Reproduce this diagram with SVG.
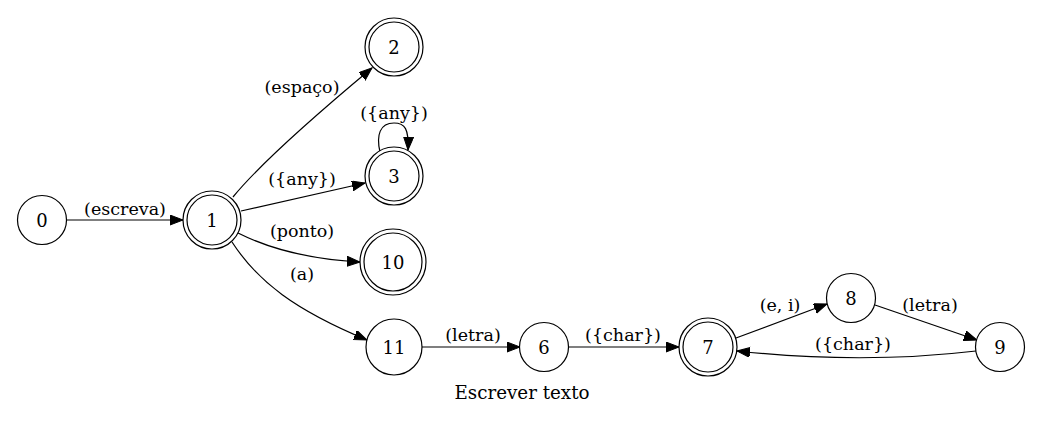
<svg xmlns="http://www.w3.org/2000/svg" width="1044" height="429" viewBox="0 0 1044 429">
<style>
  .n { fill: #fff; stroke: #000; stroke-width: 1.2; }
  .e { fill: none; stroke: #000; stroke-width: 1.2; }
  .nl { font-family: "DejaVu Serif", serif; font-size: 18px; text-anchor: middle; fill: #000; }
  .el { font-family: "DejaVu Serif", serif; font-size: 17.5px; text-anchor: middle; fill: #000; }
  .t { font-family: "DejaVu Serif", serif; font-size: 18.3px; text-anchor: middle; fill: #000; }
</style>
<defs>
  <marker id="arr" markerUnits="userSpaceOnUse" markerWidth="14" markerHeight="11" refX="13" refY="5" orient="auto">
    <path d="M0,0 L13,5 L0,10 Z" fill="#000" stroke="#000" stroke-width="1"/>
  </marker>
</defs>
<rect width="1044" height="429" fill="#fff"/>
<g id="edges">
  <path class="e" marker-end="url(#arr)" d="M67,220 L183,220"/>
  <path class="e" marker-end="url(#arr)" d="M233,197 C255,170 300,128 372,68"/>
  <path class="e" marker-end="url(#arr)" d="M241,211 L365,183"/>
  <path class="e" marker-end="url(#arr)" d="M380,152 C376,135 380,123 394,123 C405,123 409,129 408,150"/>
  <path class="e" marker-end="url(#arr)" d="M238,233 C268,248 305,259 360,262"/>
  <path class="e" marker-end="url(#arr)" d="M232,242 C258,282 295,310 367,340"/>
  <path class="e" marker-end="url(#arr)" d="M422,347 L520,347"/>
  <path class="e" marker-end="url(#arr)" d="M568,347 L679,347"/>
  <path class="e" marker-end="url(#arr)" d="M736,338 L827,304"/>
  <path class="e" marker-end="url(#arr)" d="M875,305 L977,340"/>
  <path class="e" marker-end="url(#arr)" d="M976,351 C900,360 820,360 737,351"/>
  <text class="el" x="125" y="215">(escreva)</text>
  <text class="el" x="302" y="93">(espaço)</text>
  <text class="el" x="302" y="185">({any})</text>
  <text class="el" x="394" y="119">({any})</text>
  <text class="el" x="302" y="237">(ponto)</text>
  <text class="el" x="302" y="280">(a)</text>
  <text class="el" x="473" y="341">(letra)</text>
  <text class="el" x="623" y="341">({char})</text>
  <text class="el" x="780" y="311">(e, i)</text>
  <text class="el" x="930" y="311">(letra)</text>
  <text class="el" x="853" y="350">({char})</text>
</g>
<g id="node0"><circle class="n" cx="42" cy="220" r="24.5"/><text class="nl" x="42" y="226.5">0</text></g>
<g id="node1"><circle class="n" cx="212" cy="220" r="29"/><circle class="n" cx="212" cy="220" r="25"/><text class="nl" x="212" y="226.5">1</text></g>
<g id="node2"><circle class="n" cx="394" cy="47" r="29"/><circle class="n" cx="394" cy="47" r="25"/><text class="nl" x="394" y="53.5">2</text></g>
<g id="node3"><circle class="n" cx="394" cy="176" r="29"/><circle class="n" cx="394" cy="176" r="25"/><text class="nl" x="394" y="182.5">3</text></g>
<g id="node10"><circle class="n" cx="393" cy="262" r="33"/><circle class="n" cx="393" cy="262" r="29"/><text class="nl" x="393" y="268.5">10</text></g>
<g id="node11"><circle class="n" cx="394" cy="347" r="28"/><text class="nl" x="394" y="353.5">11</text></g>
<g id="node6"><circle class="n" cx="544" cy="347" r="24.5"/><text class="nl" x="544" y="353.5">6</text></g>
<g id="node7"><circle class="n" cx="708" cy="347" r="29"/><circle class="n" cx="708" cy="347" r="25"/><text class="nl" x="708" y="353.5">7</text></g>
<g id="node8"><circle class="n" cx="851" cy="298" r="24.5"/><text class="nl" x="851" y="304.5">8</text></g>
<g id="node9"><circle class="n" cx="1000" cy="347" r="24.5"/><text class="nl" x="1000" y="353.5">9</text></g>
<text class="t" x="522" y="399">Escrever texto</text>
</svg>
